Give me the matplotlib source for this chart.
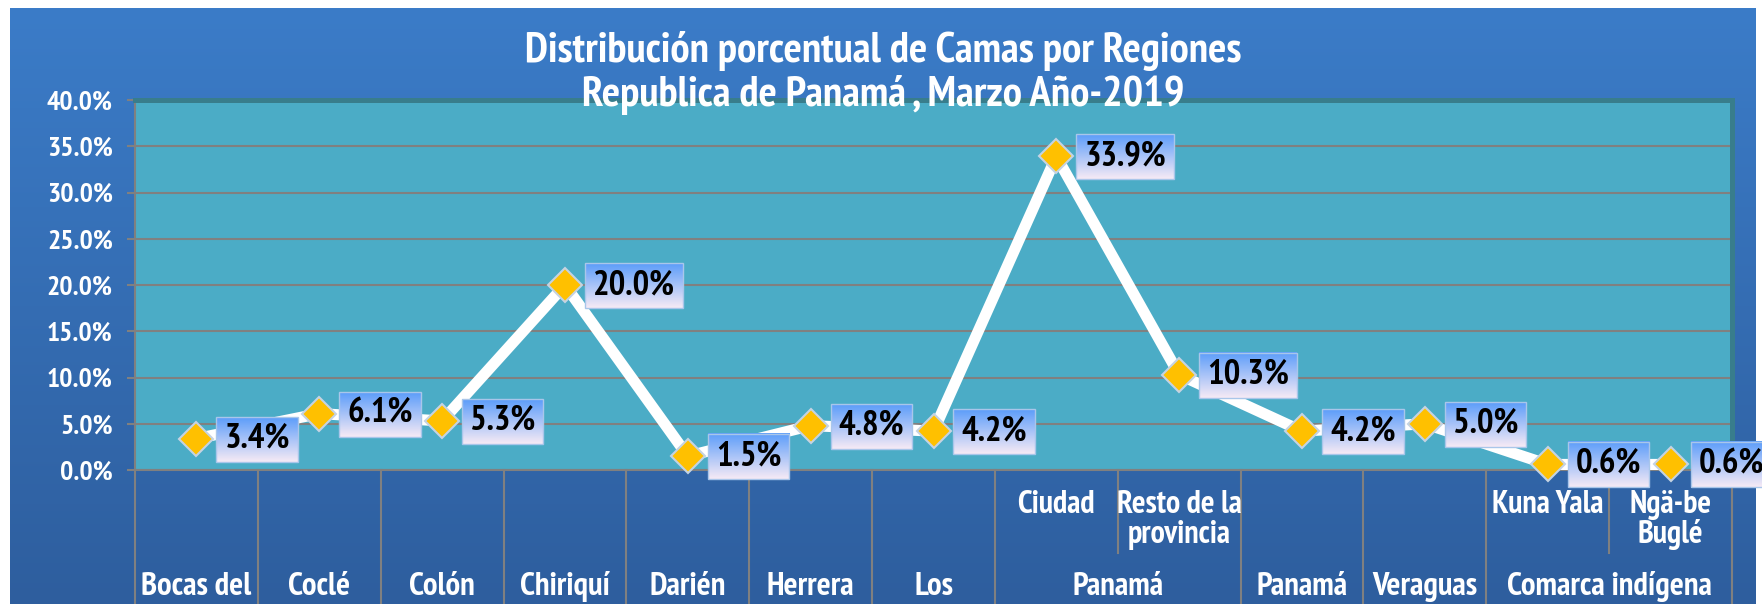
import matplotlib
matplotlib.use("Agg")
import matplotlib.pyplot as plt
import matplotlib.transforms as mtransforms
from matplotlib.lines import Line2D
from matplotlib.patches import Rectangle
from matplotlib.ticker import FuncFormatter, MultipleLocator
import numpy as np

# datos
grupos = ['Bocas del', 'Coclé', 'Colón', 'Chiriquí', 'Darién', 'Herrera', 'Los',
          'Panamá', 'Panamá', 'Veraguas', 'Comarca indígena']
tam_grupo = [1, 1, 1, 1, 1, 1, 1, 2, 1, 1, 2]
subregiones = ['', '', '', '', '', '', '', 'Ciudad', 'Resto de la\nprovincia',
               '', '', 'Kuna Yala', 'Ngä-be\nBuglé']
porcentaje = [3.4, 6.1, 5.3, 20.0, 1.5, 4.8, 4.2, 33.9, 10.3, 4.2, 5.0, 0.6, 0.6]

titulo = "Distribución porcentual de Camas por Regiones\nRepublica de Panamá , Marzo Año-2019"

W, H = 1762, 604
fuente = ['PT Sans Narrow', 'Asap Condensed', 'Archivo Narrow', 'DejaVu Sans']

def fy(px):
    return 1 - px / H

def fx(px):
    return px / W

fig = plt.figure(figsize=(W / 100, H / 100), dpi=100)
fig.patch.set_facecolor('white')

# fondo azul degradado
bg = fig.add_axes([fx(10), 0, fx(1746), fy(8)], zorder=-5)
grad = np.linspace(0, 1, 256)[:, None, None]
top_c = np.array([59, 124, 200]) / 255
bot_c = np.array([46, 94, 158]) / 255
bg.imshow(top_c * (1 - grad) + bot_c * grad, aspect='auto', extent=[0, 1, 0, 1])
bg.axis('off')

ax = fig.add_axes([fx(135), fy(470), fx(1732 - 135), (470 - 100) / H])
ax.set_facecolor('#4BACC6')

x = np.arange(len(porcentaje))
ax.set_xlim(-0.5, len(porcentaje) - 0.5)
ax.set_ylim(0, 40)
ax.set_autoscale_on(False)

ax.yaxis.set_major_locator(MultipleLocator(5))
ax.yaxis.set_major_formatter(FuncFormatter(lambda v, p: f'{v:.1f}%'))
ax.grid(axis='y', color='#808080', lw=1.5)
ax.set_axisbelow(True)
ax.set_xticks([])
ax.tick_params(axis='y', colors='#808080', length=6, width=1.5, pad=10)
for lab in ax.get_yticklabels():
    lab.set_color('white')
    lab.set_fontsize(20)
    lab.set_fontweight('bold')
    lab.set_family(fuente)

ax.spines['left'].set_color('#808080')
ax.spines['left'].set_linewidth(1.5)
ax.spines['bottom'].set_color('#808080')
ax.spines['bottom'].set_linewidth(1.5)
ax.spines['top'].set_color('#387D8C')
ax.spines['top'].set_linewidth(3.6)
ax.spines['right'].set_color('#387D8C')
ax.spines['right'].set_linewidth(3.6)

ax.plot(x, porcentaje, color='white', lw=8, marker='D', ms=17,
        mfc='#FFC000', mec='#C5D3E2', mew=1.5, zorder=3, clip_on=False)

etiquetas = []
for i, v in zip(x, porcentaje):
    t = ax.annotate(f'{v:.1f}%', (i, v), xytext=(28, 0), textcoords='offset pixels',
                    ha='left', va='center', fontsize=25, fontweight='bold',
                    family=fuente, color='black', zorder=7, annotation_clip=False)
    etiquetas.append(t)

# eje de categorias en dos niveles
trans = mtransforms.blended_transform_factory(ax.transData, fig.transFigure)
gris = '#808080'
bordes = [-0.5]
for n in tam_grupo:
    bordes.append(bordes[-1] + n)
for b in bordes:
    ax.add_line(Line2D([b, b], [fy(470), fy(610)], transform=trans, color=gris,
                       lw=1.5, clip_on=False))
for g, n, b in zip(grupos, tam_grupo, bordes[:-1]):
    ax.text(b + n / 2, fy(587), g, transform=trans, ha='center', va='center',
            fontsize=23.5, fontweight='bold', family=fuente, color='white')
    if n == 2:
        ax.add_line(Line2D([b + 1, b + 1], [fy(470), fy(553)], transform=trans,
                           color=gris, lw=1.5, clip_on=False))
for i, s in enumerate(subregiones):
    if s:
        ax.text(i, fy(520 if '\n' in s else 505), s, transform=trans, ha='center',
                va='center', fontsize=23, fontweight='bold', family=fuente,
                color='white', linespacing=1.0)

fig.text(fx(883), fy(73), titulo, ha='center', va='center', fontsize=31,
         fontweight='bold', family=fuente, color='white', linespacing=1.15)

# cajas con degradado detras de las etiquetas
fig.canvas.draw()
r = fig.canvas.get_renderer()
caja = np.linspace(0, 1, 64)[:, None, None]
c_top = np.array([92, 157, 250]) / 255
c_bot = np.array([246, 234, 245]) / 255
img = c_top * (1 - caja) + c_bot * caja
inv = ax.transData.inverted()
for t in etiquetas:
    bb = t.get_window_extent(r)
    (x0, y0) = inv.transform((bb.x0 - 8, bb.y0 - 7))
    (x1, y1) = inv.transform((bb.x1 + 8, bb.y1 + 6))
    ax.imshow(img, extent=[x0, x1, y0, y1], aspect='auto', zorder=5,
              clip_on=False, interpolation='bilinear')
    ax.add_patch(Rectangle((x0, y0), x1 - x0, y1 - y0, fill=False,
                           ec='#A9C6EA', lw=1, zorder=6, clip_on=False))
ax.set_xlim(-0.5, len(porcentaje) - 0.5)
ax.set_ylim(0, 40)

fig.savefig('out.png', dpi=100)
